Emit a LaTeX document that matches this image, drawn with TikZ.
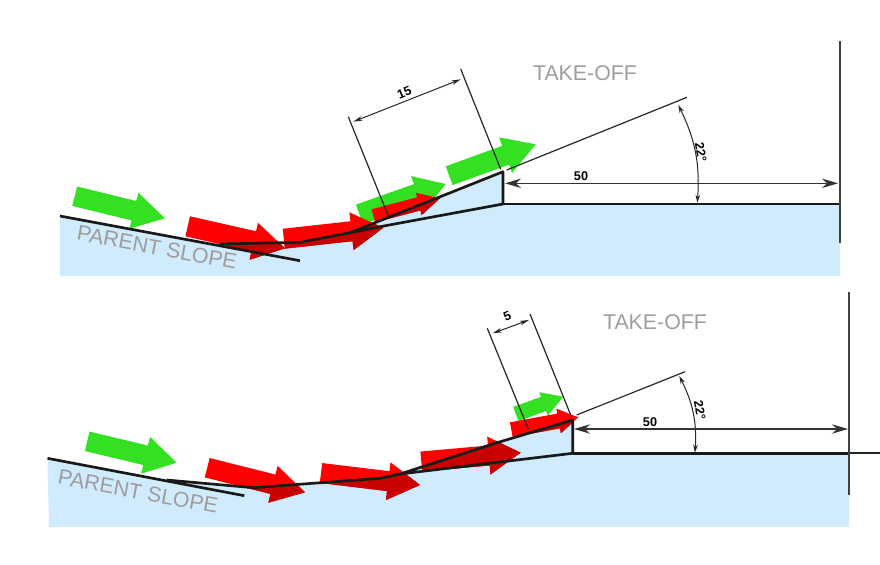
\documentclass[tikz,border=0pt]{standalone}
\usepackage{fontspec}
\setmainfont{Liberation Sans}
\usetikzlibrary{arrows.meta}
\definecolor{snow}{HTML}{CFEBFD}
\definecolor{gr}{HTML}{33E122}
\definecolor{rd}{HTML}{FF0000}
\definecolor{drd}{HTML}{C80000}
\definecolor{lab}{HTML}{A09C9C}
\newcommand\fat[8]{%
  \pgfmathsetmacro\fdx{#4-#2}\pgfmathsetmacro\fdy{#5-#3}%
  \pgfmathsetmacro\flen{veclen(\fdx,\fdy)}%
  \pgfmathsetmacro\fux{\fdx/\flen}\pgfmathsetmacro\fuy{\fdy/\flen}%
  \pgfmathsetmacro\fbx{#4-\fux*#8}\pgfmathsetmacro\fby{#5-\fuy*#8}%
  \fill[#1] ({#2-\fuy*#6/2},{#3+\fux*#6/2}) -- ({\fbx-\fuy*#6/2},{\fby+\fux*#6/2})
    -- ({\fbx-\fuy*#7/2},{\fby+\fux*#7/2}) -- (#4,#5)
    -- ({\fbx+\fuy*#7/2},{\fby-\fux*#7/2}) -- ({\fbx+\fuy*#6/2},{\fby-\fux*#6/2})
    -- ({#2+\fuy*#6/2},{#3-\fux*#6/2}) -- cycle;}
\newcommand\redset[1]{%
  \fat{#1}{187.7}{226.3}{285}{248.3}{20.5}{38}{32}
  \fat{#1}{283.8}{238.7}{383.3}{227.7}{20}{38}{32}
  \fat{#1}{373.3}{215.8}{440}{198.3}{13.5}{23}{22}
  \fat{#1}{207.2}{467.7}{305}{492.3}{20}{38}{33}
  \fat{#1}{321}{473}{420}{485}{20}{38}{32}
  \fat{#1}{421.3}{461.5}{520.7}{452.7}{20}{38}{32}
  \fat{#1}{511.3}{429.7}{578.3}{417.3}{15}{25}{20}}
\tikzset{
  prof/.style={line width=2pt,black!90,line join=round},
  thin line/.style={line width=0.9pt,black!85},
  dimarrow/.style={line width=0.75pt,black!85,{Stealth[length=7pt,width=3.5pt]}-{Stealth[length=7pt,width=3.5pt]}},
  bigdim/.style={line width=1pt,black!80,{Stealth[length=12pt,width=7pt]}-{Stealth[length=12pt,width=7pt]}},
  angarrow/.style={line width=0.75pt,black!85,{Stealth[length=6pt,width=3.5pt]}-{Stealth[length=6pt,width=3.5pt]}},
  gtext/.style={text=lab,font=\fontsize{16pt}{17pt}\selectfont,inner sep=0pt},
  dtext/.style={text=black,font=\bfseries\fontsize{9.5pt}{10pt}\selectfont,inner sep=0pt},
}
\begin{document}
\begin{tikzpicture}[x=0.75pt,y=-0.75pt]
\useasboundingbox (0,0) rectangle (880,564);
% top profile points
\coordinate (a0) at (60,216);
\coordinate (a1) at (300,260.7);
\coordinate (a2) at (220,244);
\coordinate (a3) at (300,242.3);
\coordinate (a4) at (350,232.7);
\coordinate (a5) at (503,171.7);
\coordinate (a6) at (503,204);
\coordinate (a7) at (840,204);
\coordinate (a8) at (840,276);
\coordinate (a9) at (60,276);
\coordinate (a10) at (380,226.7);
% bottom profile points
\coordinate (b0) at (47.5,458.3);
\coordinate (b1) at (244.3,495.7);
\coordinate (b2) at (166.7,480);
\coordinate (b3) at (253.3,487.7);
\coordinate (b4) at (380,478.3);
\coordinate (b5) at (400,474);
\coordinate (b6) at (495,443.3);
\coordinate (b7) at (572.7,420);
\coordinate (b8) at (572.7,453.3);
\coordinate (b9) at (880,453.3);
\coordinate (b10) at (849,453.3);
\coordinate (b11) at (849,527);
\coordinate (b12) at (49,527);
% snow
\fill[snow] (a0) -- (a2) -- (a3) -- (a4) -- (a5) -- (a6) -- (a7) -- (a8) -- (a9) -- cycle;
\fill[snow] (b0) -- (b2) -- (b3) -- (b4) -- (b5) -- (b6) -- (b7) -- (b8) -- (b10) -- (b11) -- (b12) -- cycle;
% arrows
\fat{gr}{74.7}{196.2}{165}{218.3}{20}{37}{32}
\fat{gr}{359.5}{214.5}{445.7}{184}{21}{38}{30}
\fat{gr}{449.2}{175.7}{535.7}{144.3}{20}{38}{32}
\fat{gr}{87.2}{441.3}{176.7}{462.7}{20}{38}{32}
\fat{gr}{515.8}{414}{563.3}{396.7}{15}{25}{21}
\redset{rd}
\begin{scope}
\clip (a0) -- (a2) -- (a3) -- (a4) -- (a5) -- (a6) -- (a7) -- (a8) -- (a9) -- cycle
      (b0) -- (b2) -- (b3) -- (b4) -- (b5) -- (b6) -- (b7) -- (b8) -- (b10) -- (b11) -- (b12) -- cycle;
\redset{drd}
\end{scope}
% profile lines
\draw[prof] (a0) -- (a1);
\draw[prof] (a2) -- (a3) -- (a4) -- (a5) -- (a6) -- (a10) -- (a4);
\draw[prof] (a6) -- (a7);
\draw[prof] (b0) -- (b1);
\draw[prof] (b2) -- (b3) -- (b4) -- (b5) -- (b6) -- (b7) -- (b8) -- (b5);
\draw[prof] (b8) -- (b10);
\draw[line width=1.3pt,black!85] (b10) -- (b9);
% top dimensions
\coordinate (t1) at (348.3,116.7); \coordinate (t2) at (388.3,216);
\coordinate (t3) at (460.7,69); \coordinate (t4) at (500.7,169.3);
\coordinate (t5) at (353.3,121.7); \coordinate (t6) at (460.7,79.3);
\coordinate (t7) at (506.7,170); \coordinate (t8) at (687,97.3);
\coordinate (t9) at (678.3,105); \coordinate (t10) at (697.3,202.7);
\coordinate (t11) at (505,183.3); \coordinate (t12) at (838,183.3);
\coordinate (t13) at (840,41); \coordinate (t14) at (840,243);
\draw[thin line] (t1) -- (t2);
\draw[thin line] (t3) -- (t4);
\draw[dimarrow] (t5) -- (t6);
\draw[thin line] (t7) -- (t8);
\draw[angarrow] (t9) to[bend left=15] (t10);
\draw[bigdim] (t11) -- (t12);
\draw[line width=1.1pt,black!75] (t13) -- (t14);
% bottom dimensions
\coordinate (u1) at (487.3,328.3); \coordinate (u2) at (528.3,429);
\coordinate (u3) at (530,314); \coordinate (u4) at (570.7,415);
\coordinate (u5) at (492.7,333.3); \coordinate (u6) at (529,320);
\coordinate (u7) at (576.7,415); \coordinate (u8) at (685,371.7);
\coordinate (u9) at (679.3,376); \coordinate (u10) at (695,452.7);
\coordinate (u11) at (574,429); \coordinate (u12) at (848,429);
\coordinate (u13) at (849,292); \coordinate (u14) at (849,495);
\draw[thin line] (u1) -- (u2);
\draw[thin line] (u3) -- (u4);
\draw[dimarrow] (u5) -- (u6);
\draw[thin line] (u7) -- (u8);
\draw[angarrow] (u9) to[bend left=15] (u10);
\draw[bigdim] (u11) -- (u12);
\draw[line width=1.1pt,black!75] (u13) -- (u14);
% labels
\node[gtext] (n1) at (585,73) {TAKE-OFF};
\node[gtext] (n2) at (655,322.5) {TAKE-OFF};
\node[gtext,rotate=-10.5] (n3) at (157,247.5) {PARENT SLOPE};
\node[gtext,rotate=-10.5] (n4) at (138,491.5) {PARENT SLOPE};
\node[dtext,rotate=22] (n5) at (404.3,92.5) {15};
\node[dtext] (n6) at (581,176.5) {50};
\node[dtext,rotate=-80] (n7) at (701,152.5) {22°};
\node[dtext,rotate=22] (n8) at (507.3,316) {5};
\node[dtext] (n9) at (650,422.5) {50};
\node[dtext,rotate=-80] (n10) at (700,410) {22°};
\end{tikzpicture}
\end{document}
